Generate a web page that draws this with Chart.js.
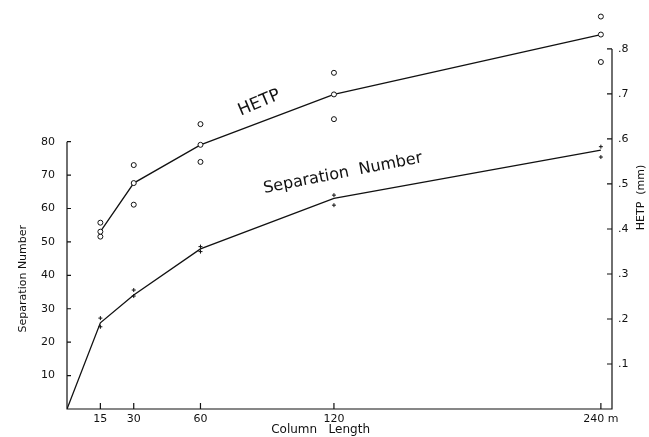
<!DOCTYPE html>
<html>
<head>
<meta charset="utf-8">
<script src="https://cdn.jsdelivr.net/npm/chart.js@4/dist/chart.umd.min.js"></script>
<style>
    body { margin: 0; background: #fff; }
    #wrap { width: 649px; height: 437px; }
</style>
</head>
<body>
<div id="wrap"><canvas id="metric-graph"></canvas></div>
<script>
// column length (m)
let lengths = [15, 30, 60, 120, 240];
let xTicks = [15, 30, 60, 120, 240];
let sepTicks = [10, 20, 30, 40, 50, 60, 70, 80];
let hetpTicks = [0.1, 0.2, 0.3, 0.4, 0.5, 0.6, 0.7, 0.8];

// separation number: mean line (starts at origin) and the two measured marks
let sepX = [0, 15, 30, 60, 120, 240];
let sepLine = [0, 25.8, 34.1, 47.9, 63, 77.5];
let sepHigh = [27.2, 35.6, 48.6, 64, 78.5];
let sepLow = [24.6, 33.8, 47.1, 61, 75.4];

// HETP (mm): mean line and the outer circles
let hetpLine = [0.394, 0.502, 0.587, 0.699, 0.832];
let hetpHigh = [0.414, 0.542, 0.633, 0.747, 0.872];
let hetpLow = [0.383, 0.454, 0.549, 0.644, 0.771];

// scale ranges; the plot area runs above the drawn axes so the top circles show
let sepMax = 120;
let hetpMax = 0.891;
let ink = "#111";
let font = { family: "DejaVu Sans", size: 11 };

function pts(xs, ys) {
    let out = [];
    for (let i = 0; i < ys.length; i++) {
        out.push({ x: xs[i], y: ys[i] });
    }
    return out;
}

function fitY(width) {
    return s => {
        s.width = width;
        s.paddingTop = 0;
        s.paddingBottom = 0;
    };
}

let decor = {
    id: "decor",
    afterDatasetsDraw(chart) {
        let ctx = chart.ctx;
        let x = chart.scales.x;
        let y = chart.scales.y;
        let r = chart.scales.yR;
        let x0 = x.getPixelForValue(0);
        let x1 = chart.chartArea.right;
        let y0 = y.getPixelForValue(0);
        ctx.save();
        ctx.strokeStyle = ink;
        ctx.lineWidth = 1.2;
        ctx.beginPath();
        // left axis only up to 80, right axis up to .8
        ctx.moveTo(x0, y.getPixelForValue(80));
        ctx.lineTo(x0, y0);
        ctx.lineTo(x1, y0);
        ctx.lineTo(x1, r.getPixelForValue(0.8));
        // inside ticks
        sepTicks.forEach(v => {
            let p = y.getPixelForValue(v);
            ctx.moveTo(x0, p);
            ctx.lineTo(x0 + 4, p);
        });
        hetpTicks.forEach(v => {
            let p = r.getPixelForValue(v);
            ctx.moveTo(x1, p);
            ctx.lineTo(x1 - 5, p);
        });
        xTicks.forEach(v => {
            let p = x.getPixelForValue(v);
            ctx.moveTo(p, y0);
            ctx.lineTo(p, y0 - 6);
        });
        ctx.stroke();

        ctx.fillStyle = ink;
        ctx.textAlign = "center";
        ctx.textBaseline = "middle";
        ctx.font = "12px 'DejaVu Sans'";
        ctx.fillText("Column   Length", x.getPixelForValue(114), 430);

        ctx.font = "11px 'DejaVu Sans'";
        ctx.save();
        ctx.translate(23, y.getPixelForValue(39));
        ctx.rotate(-Math.PI / 2);
        ctx.fillText("Separation Number", 0, 0);
        ctx.restore();

        ctx.save();
        ctx.translate(641, r.getPixelForValue(0.47));
        ctx.rotate(-Math.PI / 2);
        ctx.fillText("HETP  (mm)", 0, 0);
        ctx.restore();

        ctx.font = "17px 'DejaVu Sans'";
        ctx.save();
        ctx.translate(x.getPixelForValue(86.5), r.getPixelForValue(0.68));
        ctx.rotate(-23 * Math.PI / 180);
        ctx.fillText("HETP", 0, 0);
        ctx.restore();

        ctx.font = "16px 'DejaVu Sans'";
        ctx.save();
        ctx.translate(x.getPixelForValue(124), y.getPixelForValue(70.5));
        ctx.rotate(-11 * Math.PI / 180);
        ctx.fillText("Separation  Number", 0, 0);
        ctx.restore();
        ctx.restore();
    }
};

let ctx = document.getElementById("metric-graph");

new Chart(ctx, {
    type: 'line',
    data: {
        datasets: [
            {
                data: pts(sepX, sepLine), yAxisID: 'y',
                borderColor: ink, borderWidth: 1.3, pointRadius: 0
            },
            {
                data: pts(lengths, sepHigh), yAxisID: 'y', showLine: false,
                pointStyle: 'cross', pointRadius: 2, borderColor: ink, borderWidth: 1
            },
            {
                data: pts(lengths, sepLow), yAxisID: 'y', showLine: false,
                pointStyle: 'cross', pointRadius: 2, borderColor: ink, borderWidth: 1
            },
            {
                data: pts(lengths, hetpLine), yAxisID: 'yR',
                borderColor: ink, borderWidth: 1.3, pointStyle: 'circle',
                pointRadius: 2.5, pointBackgroundColor: '#fff', pointBorderWidth: 1
            },
            {
                data: pts(lengths, hetpHigh), yAxisID: 'yR', showLine: false,
                borderColor: ink, pointStyle: 'circle', pointRadius: 2.5,
                pointBackgroundColor: '#fff', pointBorderWidth: 1
            },
            {
                data: pts(lengths, hetpLow), yAxisID: 'yR', showLine: false,
                borderColor: ink, pointStyle: 'circle', pointRadius: 2.5,
                pointBackgroundColor: '#fff', pointBorderWidth: 1
            }
        ]
    },
    options: {
        responsive: true,
        maintainAspectRatio: false,
        animation: false,
        layout: { padding: { top: 8 } },
        plugins: { legend: { display: false }, tooltip: { enabled: false } },
        elements: { line: { tension: 0 } },
        scales: {
            x: {
                type: 'linear', min: 0, max: 245,
                afterBuildTicks: s => { s.ticks = xTicks.map(v => ({ value: v })); },
                afterFit: s => { s.height = 28; },
                grid: { display: false, drawTicks: false },
                border: { display: false },
                ticks: {
                    color: ink, font: font, padding: 4, maxRotation: 0, autoSkip: false,
                    callback: v => v == 240 ? "240 m" : String(v)
                }
            },
            y: {
                position: 'left', min: 0, max: sepMax,
                afterBuildTicks: s => { s.ticks = sepTicks.map(v => ({ value: v })); },
                afterFit: fitY(67),
                grid: { display: false, drawTicks: false },
                border: { display: false },
                ticks: { color: ink, font: font, padding: 12 }
            },
            yR: {
                position: 'right', min: 0, max: hetpMax,
                afterBuildTicks: s => { s.ticks = hetpTicks.map(v => ({ value: v })); },
                afterFit: fitY(37),
                grid: { display: false, drawTicks: false },
                border: { display: false },
                ticks: {
                    color: ink, font: font, padding: 6,
                    callback: v => "." + Math.round(v * 10)
                }
            }
        }
    },
    plugins: [decor]
});
</script>
</body>
</html>
